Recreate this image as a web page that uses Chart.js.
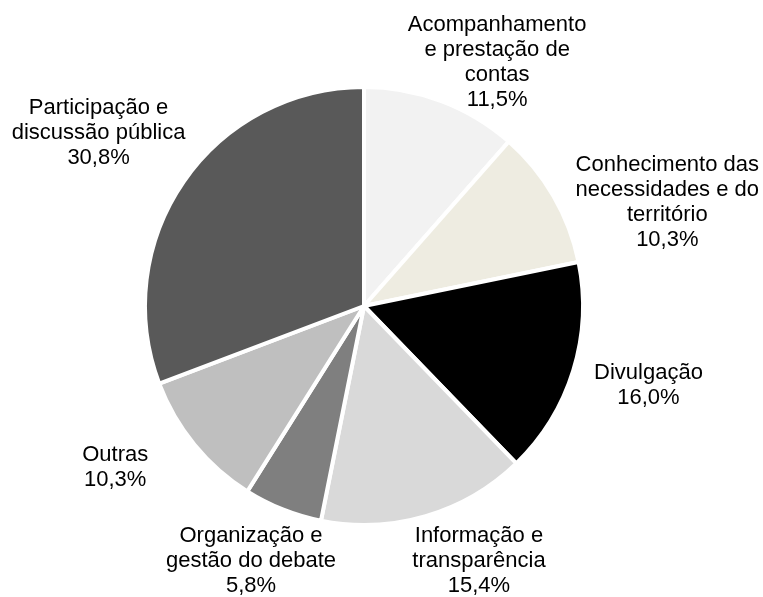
<!DOCTYPE html>
<html>
<head>
<meta charset="utf-8">
<script src="https://cdn.jsdelivr.net/npm/chart.js@4.4.1/dist/chart.umd.min.js"></script>
<style>
html, body { margin: 0; padding: 0; background: #fff; }
</style>
</head>
<body>
<canvas id="grafico" width="763" height="597"></canvas>
<script>
// dados do gráfico
const categorias = [
  "Acompanhamento e prestação de contas",
  "Conhecimento das necessidades e do território",
  "Divulgação",
  "Informação e transparência",
  "Organização e gestão do debate",
  "Outras",
  "Participação e discussão pública"
]
const percentuais = [11.5, 10.3, 16.0, 15.4, 5.8, 10.3, 30.8]

// quebras de linha dos rótulos (como no original)
const linhasRotulo = [
  ["Acompanhamento", "e prestação de", "contas"],
  ["Conhecimento das", "necessidades e do", "território"],
  ["Divulgação"],
  ["Informação e", "transparência"],
  ["Organização e", "gestão do debate"],
  ["Outras"],
  ["Participação e", "discussão pública"]
]

const cores = ["#f2f2f2", "#eeece1", "#000000", "#d9d9d9", "#7f7f7f", "#bfbfbf", "#595959"]

// centro de cada rótulo, em frações do raio a partir do centro da pizza
const posRotulo = [
  [0.608, -1.111],
  [1.385, -0.475],
  [1.299, 0.364],
  [0.525, 1.166],
  [-0.516, 1.166],
  [-1.136, 0.737],
  [-1.212, -0.788]
]

const formatarPct = v => v.toFixed(1).replace(".", ",") + "%"

const rotulosPlugin = {
  id: "rotulos",
  afterDatasetsDraw(chart) {
    const ctx = chart.ctx
    const meta = chart.getDatasetMeta(0)
    const alturaLinha = 25
    ctx.save()
    ctx.font = "22px 'Liberation Sans', Arial, sans-serif"
    ctx.fillStyle = "#000"
    ctx.textAlign = "center"
    ctx.textBaseline = "middle"
    meta.data.forEach((arc, i) => {
      const r = arc.outerRadius
      const cx = arc.x + posRotulo[i][0] * r
      const cy = arc.y + posRotulo[i][1] * r
      const linhas = [...linhasRotulo[i], formatarPct(percentuais[i])]
      const topo = cy - (linhas.length - 1) * alturaLinha / 2
      linhas.forEach((txt, k) => {
        ctx.fillText(txt, cx, topo + k * alturaLinha)
      })
    })
    ctx.restore()
  }
}

const grafico = new Chart(document.getElementById("grafico"), {
  type: "pie",
  data: {
    labels: categorias,
    datasets: [{
      data: percentuais,
      backgroundColor: cores,
      borderColor: "#ffffff",
      borderWidth: 4
    }]
  },
  options: {
    responsive: false,
    animation: false,
    layout: {
      padding: { left: 143, right: 178, top: 85, bottom: 70 }
    },
    plugins: {
      legend: { display: false },
      tooltip: { enabled: false }
    }
  },
  plugins: [rotulosPlugin]
})
</script>
</body>
</html>
